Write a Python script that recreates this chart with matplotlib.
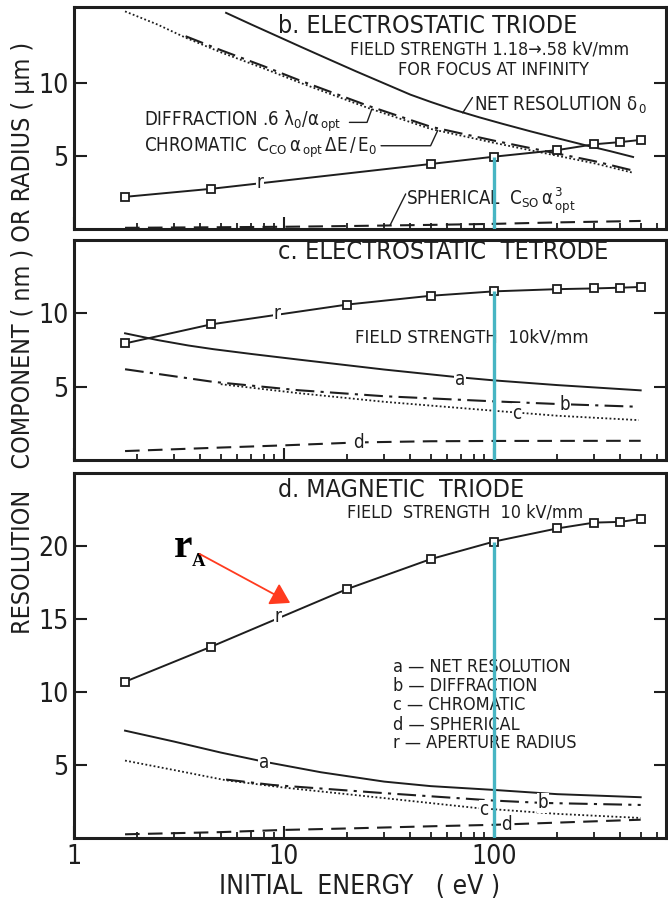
import matplotlib
matplotlib.use("Agg")
import matplotlib.pyplot as plt
from matplotlib import font_manager
from matplotlib.ticker import FuncFormatter, NullFormatter, LogLocator, FixedLocator

# lettering: a condensed sans if one is installed, plain DejaVu otherwise
_entries = font_manager.fontManager.ttflist
_cond = [f for f in _entries
         if f.style == "normal" and f.weight in (400, "normal", "regular")
         and (f.stretch in ("condensed", "semi-condensed")
              or "Narrow" in f.name or "Condensed" in f.name)
         and "Serif" not in f.name and "Mono" not in f.name]
if _cond:
    FONT = _cond[0].name
    plt.rcParams["font.stretch"] = _cond[0].stretch
    K = 1.12
else:
    FONT = "DejaVu Sans"
    K = 1.0
plt.rcParams["font.family"] = [FONT, "DejaVu Sans"]
plt.rcParams["mathtext.fontset"] = "custom"
plt.rcParams["mathtext.rm"] = FONT
plt.rcParams["mathtext.it"] = FONT
plt.rcParams["mathtext.default"] = "rm"

INK = "#1e1e1e"
CYAN = "#47b5c3"
RED = "#ff3b1f"

# ---- b. electrostatic triode (energy in eV) ----
b_r_E = [1.75, 4.5, 50, 100, 200, 300, 400, 500]
b_r = [2.2, 2.75, 4.45, 4.95, 5.4, 5.8, 5.95, 6.1]
b_net_E = [5.3, 7, 9.3, 12, 16, 22, 30, 40, 50, 65, 85, 110, 150, 200, 270, 360, 460]
b_net = [14.8, 14.0, 13.2, 12.48, 11.68, 10.8, 9.97, 9.2, 8.7, 8.15, 7.65, 7.2,
         6.68, 6.22, 5.75, 5.32, 4.93]
b_chrom_E = [1.75, 2.5, 3.4, 5, 8, 12, 25, 50, 100, 180, 300, 460]
b_chrom = [14.9, 14.0, 13.1, 12.1, 11.0, 10.0, 8.3, 6.85, 5.9, 5.15, 4.5, 3.85]
b_diff_E = [3.4, 5, 8, 12, 25, 50, 100, 180, 300, 460]
b_diff = [13.2, 12.25, 11.15, 10.15, 8.45, 7.0, 6.05, 5.3, 4.65, 4.0]
b_sph_E = [1.75, 5, 10, 20, 50, 100, 200, 500]
b_sph = [0.08, 0.12, 0.15, 0.2, 0.28, 0.35, 0.45, 0.55]

# ---- c. electrostatic tetrode ----
c_r_E = [1.75, 4.5, 20, 50, 100, 200, 300, 400, 500]
c_r = [7.95, 9.25, 10.6, 11.2, 11.5, 11.65, 11.7, 11.75, 11.8]
c_a_E = [1.75, 2.5, 3.5, 4.6, 7, 11.7, 30, 65, 100, 200, 500]
c_a = [8.64, 8.18, 7.81, 7.56, 7.23, 6.85, 6.17, 5.67, 5.43, 5.11, 4.75]
c_b_E = [1.75, 4.6, 11.7, 30, 100, 200, 490]
c_b = [6.19, 5.33, 4.76, 4.35, 4.0, 3.82, 3.63]
c_c_E = [5, 11.7, 30, 100, 200, 490]
c_c = [5.17, 4.56, 3.97, 3.36, 3.02, 2.72]
c_d_E = [1.75, 5, 10, 22.6, 50, 100, 500]
c_d = [0.61, 0.85, 1.0, 1.2, 1.28, 1.3, 1.31]

# ---- d. magnetic triode ----
d_r_E = [1.75, 4.5, 20, 50, 100, 200, 300, 400, 500]
d_r = [10.7, 13.1, 17.05, 19.1, 20.3, 21.2, 21.6, 21.65, 21.85]
d_a_E = [1.75, 3, 5, 8, 15, 30, 50, 100, 200, 500]
d_a = [7.35, 6.6, 5.85, 5.23, 4.5, 3.86, 3.55, 3.29, 3.0, 2.79]
d_b_E = [5.3, 8.8, 30, 100, 170, 500]
d_b = [4.0, 3.63, 3.07, 2.56, 2.4, 2.26]
d_c_E = [1.75, 3, 5.3, 10, 30, 83, 200, 500]
d_c = [5.3, 4.65, 3.95, 3.45, 2.73, 2.05, 1.65, 1.37]
d_d_E = [1.75, 5, 10, 20, 50, 100, 200, 500]
d_d = [0.25, 0.4, 0.55, 0.65, 0.8, 0.9, 1.05, 1.25]

legend_lines = ["a \u2014 NET RESOLUTION", "b \u2014 DIFFRACTION", "c \u2014 CHROMATIC",
                "d \u2014 SPHERICAL", "r \u2014 APERTURE RADIUS"]

SOLID = dict(color=INK, lw=1.4, ls="-")
DASHDOT = dict(color=INK, lw=1.5, ls=(0, (9, 3, 1.5, 3)))
DOTTED = dict(color=INK, lw=1.3, ls=(0, (1, 1.3)))
DASHED = dict(color=INK, lw=1.5, ls=(0, (7, 4)))

fig = plt.figure(figsize=(6.68, 8.99), dpi=100)
L, W = 0.1108, 0.8862
ax_b = fig.add_axes([L, 0.7453, W, 0.2469])
ax_c = fig.add_axes([L, 0.4883, W, 0.2447])
ax_d = fig.add_axes([L, 0.0679, W, 0.4060])


def frame(ax, ymax, yticks, xlabels=False):
    ax.set_xscale("log")
    ax.set_xlim(1, 660)
    ax.set_ylim(0, ymax)
    for s in ax.spines.values():
        s.set_linewidth(2.2)
        s.set_color(INK)
    ax.xaxis.set_major_locator(FixedLocator([1, 10, 100]))
    ax.xaxis.set_minor_locator(LogLocator(base=10, subs=range(2, 10)))
    ax.xaxis.set_minor_formatter(NullFormatter())
    if xlabels:
        ax.xaxis.set_major_formatter(FuncFormatter(lambda v, _: f"{v:g}"))
    else:
        ax.xaxis.set_major_formatter(NullFormatter())
    ax.set_yticks(yticks)
    ax.tick_params(axis="both", which="major", direction="in", length=9,
                   width=1.5, color=INK, labelsize=17 * K, labelcolor=INK, pad=4)
    ax.tick_params(axis="x", which="minor", direction="in", length=4.5,
                   width=1.3, color=INK)
    ax.tick_params(axis="y", which="both", left=True, right=True)
    ax.tick_params(axis="x", which="both", top=False)


def note(ax, x, y, s, size, ha="center"):
    ax.text(x, y, s, ha=ha, va="center", fontsize=size * K, color=INK)


def tag(ax, x, y, s):
    ax.text(x, y, s, ha="center", va="center", fontsize=12 * K, color=INK,
            bbox=dict(fc="white", ec="none", pad=0.6), zorder=4)


def aperture(ax, E, r):
    ax.plot(E, r, color=INK, lw=1.4, marker="s", ms=6, mfc="white",
            mec=INK, mew=1.3, zorder=3)
    # cyan marker line at 100 eV, down from the aperture curve
    ax.vlines(100, 0, r[E.index(100)], color=CYAN, lw=2.4, zorder=10)


# ---------- b. ELECTROSTATIC TRIODE ----------
frame(ax_b, 15.2, [5, 10])
ax_b.plot(b_net_E, b_net, **SOLID)
ax_b.plot(b_chrom_E, b_chrom, **DOTTED)
ax_b.plot(b_diff_E, b_diff, **DASHDOT)
ax_b.plot(b_sph_E, b_sph, **DASHED)
aperture(ax_b, b_r_E, b_r)
tag(ax_b, 7.7, 3.15, "r")

note(ax_b, 48.5, 13.9, "b. ELECTROSTATIC TRIODE", 16)
note(ax_b, 95.7, 12.26, "FIELD STRENGTH 1.18\u2192.58 kV/mm", 11.4)
note(ax_b, 100, 10.9, "FOR FOCUS AT INFINITY", 11.6)
note(ax_b, 80.3, 8.5, r"NET RESOLUTION $\delta_{\,0}$", 12, ha="left")
note(ax_b, 2.15, 7.4, r"DIFFRACTION .6 $\lambda_0/\alpha_{\,opt}$", 12, ha="left")
note(ax_b, 2.15, 5.55, r"CHROMATIC  $C_{CO}\,\alpha_{\,opt}\,\Delta E\,/\,E_0$", 12, ha="left")
note(ax_b, 38.1, 1.9, r"SPHERICAL  $C_{SO}\,\alpha^{\,3}_{\,opt}$", 12, ha="left")

# leader lines from the labels to their curves
lead = dict(arrowstyle="-", color=INK, lw=1.0, shrinkA=0, shrinkB=0)
ax_b.annotate("", xy=(71, 7.95), xytext=(79, 9.0), arrowprops=lead)
ax_b.annotate("", xy=(26.2, 8.2), xytext=(20.5, 7.3),
              arrowprops=dict(lead, connectionstyle="angle,angleA=0,angleB=70"))
ax_b.annotate("", xy=(54, 6.75), xytext=(29, 5.7),
              arrowprops=dict(lead, connectionstyle="angle,angleA=0,angleB=65"))
ax_b.annotate("", xy=(32, 0.25), xytext=(38, 2.4), arrowprops=lead)

# ---------- c. ELECTROSTATIC TETRODE ----------
frame(ax_c, 15, [5, 10])
ax_c.plot(c_a_E, c_a, **SOLID)
ax_c.plot(c_b_E, c_b, **DASHDOT)
ax_c.plot(c_c_E, c_c, **DOTTED)
ax_c.plot(c_d_E, c_d, **DASHED)
aperture(ax_c, c_r_E, c_r)

note(ax_c, 57.2, 14.2, "c. ELECTROSTATIC  TETRODE", 16.2)
note(ax_c, 78.5, 8.37, "FIELD STRENGTH  10kV/mm", 11.9)
tag(ax_c, 9.27, 10.0, "r")
tag(ax_c, 68.8, 5.51, "a")
tag(ax_c, 218, 3.81, "b")
tag(ax_c, 129, 3.2, "c")
tag(ax_c, 22.7, 1.22, "d")

# ---------- d. MAGNETIC TRIODE ----------
frame(ax_d, 25, [5, 10, 15, 20], xlabels=True)
ax_d.plot(d_a_E, d_a, **SOLID)
ax_d.plot(d_b_E, d_b, **DASHDOT)
ax_d.plot(d_c_E, d_c, **DOTTED)
ax_d.plot(d_d_E, d_d, **DASHED)
aperture(ax_d, d_r_E, d_r)

note(ax_d, 36.0, 23.84, "d. MAGNETIC  TRIODE", 16)
note(ax_d, 72.7, 22.26, "FIELD  STRENGTH  10 kV/mm", 11.5)
for txt, yv in zip(legend_lines, [11.71, 10.41, 9.11, 7.74, 6.51]):
    note(ax_d, 33.0, yv, txt, 11.6, ha="left")
tag(ax_d, 9.37, 15.2, "r")
tag(ax_d, 8.04, 5.2, "a")
tag(ax_d, 171, 2.4, "b")
tag(ax_d, 89.6, 1.92, "c")
tag(ax_d, 115, 0.89, "d")

# red r_A callout
serif = ["Liberation Serif", "DejaVu Serif"]
ax_d.text(3.3, 19.9, "r", ha="center", va="center", fontsize=30,
          fontweight="bold", family=serif, fontstretch="normal", color="black")
ax_d.text(3.9, 18.95, "A", ha="center", va="center", fontsize=13.5,
          fontweight="bold", family=serif, fontstretch="normal", color="black")
ax_d.annotate("", xy=(10.7, 16.1), xytext=(3.97, 19.45),
              arrowprops=dict(arrowstyle="-|>,head_length=0.45,head_width=0.28",
                              mutation_scale=26, color=RED, lw=1.3,
                              shrinkA=0, shrinkB=0))

ax_d.set_xlabel("INITIAL  ENERGY   ( eV )", fontsize=17 * K, color=INK)
ax_d.xaxis.set_label_coords(0.483, -0.10)

fig.text(23 / 668, 1 - 338 / 899,
         "RESOLUTION   COMPONENT ( nm ) OR RADIUS ( \u03bcm )",
         rotation=90, ha="center", va="center", fontsize=16 * K, color=INK)

fig.savefig("out.png", dpi=100)
